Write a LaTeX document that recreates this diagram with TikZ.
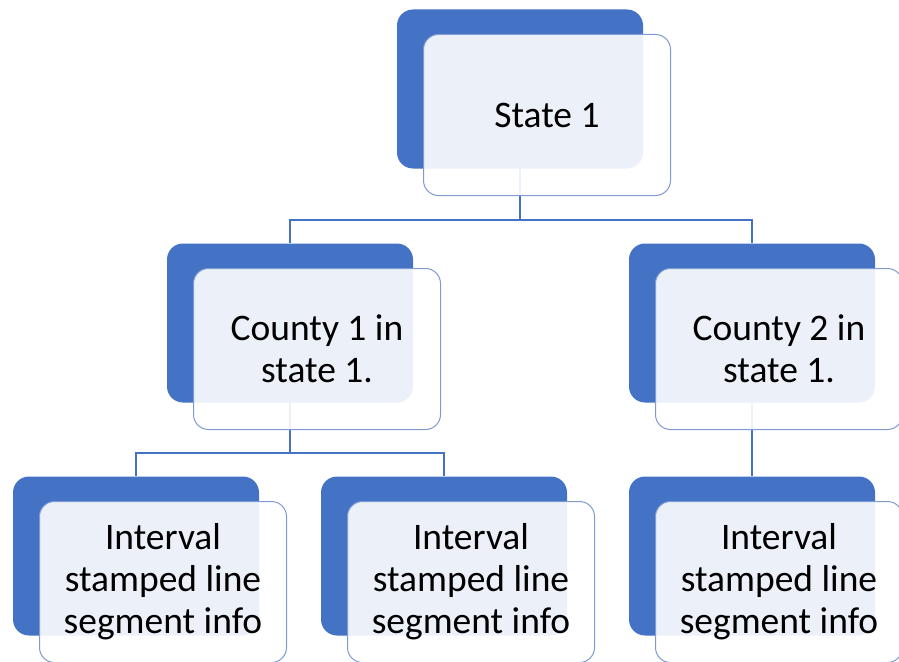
\documentclass[tikz,border=0pt]{standalone}
\usepackage{fontspec}
\setmainfont{Carlito}
\definecolor{dblue}{HTML}{4472C4}
\definecolor{lblue}{HTML}{7F9BD3}
\begin{document}
\begin{tikzpicture}[x=1pt,y=-1pt,
  backbox/.style={fill=dblue,draw=none,rounded corners=16pt,minimum width=246pt,minimum height=159pt,inner sep=0pt},
  frontbox/.style={fill=white,fill opacity=0.9,text opacity=1,draw=lblue,line width=1pt,rounded corners=15pt,minimum width=247pt,minimum height=161pt,inner sep=0pt,align=center,
    font=\fontsize{37.5pt}{42pt}\selectfont},
  conn/.style={draw=dblue,line width=1.2pt}]
\useasboundingbox (0,0) rectangle (899,661);
% back boxes
\node[backbox] (s1b) at (520,89) {};
\node[backbox] (c1b) at (290,323) {};
\node[backbox] (c2b) at (752,323) {};
\node[backbox] (i1b) at (136,556) {};
\node[backbox] (i2b) at (444,556) {};
\node[backbox] (i3b) at (752,556) {};
% connectors
\coordinate (j1) at (520,220);
\coordinate (j2) at (290,453);
\draw[conn] (s1b.south) -- (j1) -| (c1b.north);
\draw[conn] (j1) -| (c2b.north);
\draw[conn] (c1b.south) -- (j2) -| (i1b.north);
\draw[conn] (j2) -| (i2b.north);
\draw[conn] (c2b.south) -- (i3b.north);
% front boxes
\node[frontbox] (s1) at (547,115) {State 1};
\node[frontbox] (c1) at (317,349) {County 1 in\\state 1.};
\node[frontbox] (c2) at (779,349) {County 2 in\\state 1.};
\node[frontbox] (i1) at (163,582) {Interval\\stamped line\\segment info};
\node[frontbox] (i2) at (471,582) {Interval\\stamped line\\segment info};
\node[frontbox] (i3) at (779,582) {Interval\\stamped line\\segment info};
\end{tikzpicture}
\end{document}
